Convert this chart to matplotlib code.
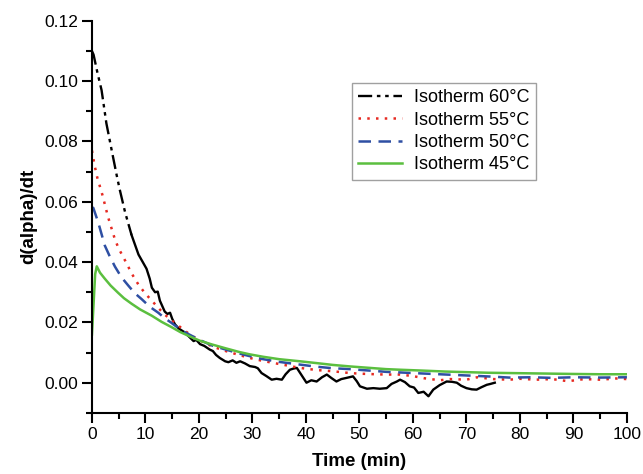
import matplotlib
matplotlib.use("Agg")
import matplotlib.pyplot as plt
from matplotlib.lines import Line2D
from matplotlib.ticker import MultipleLocator, FormatStrFormatter

plt.rcParams['font.family'] = ['Liberation Sans', 'DejaVu Sans']

# Isotherm 60°C
t60 = [0.0, 0.3, 1.0, 1.8, 2.7, 3.7, 4.6, 5.2, 6.2, 7.4, 8.7, 9.5, 10.2, 10.8, 11.2, 11.8,
       12.3, 12.7, 13.6, 14.1, 14.6, 15.0, 15.5, 16.2, 17.4, 18.3, 19.0, 19.5, 20.2, 21.0,
       22.0, 22.6, 23.2, 23.9, 24.9, 25.5, 26.3, 27.0, 27.7, 28.6, 29.5, 30.5, 31.0, 31.7,
       32.6, 33.6, 34.5, 35.5, 36.2, 37.0, 37.7, 38.3, 39.0, 40.1, 41.0, 42.0, 43.0, 43.9,
       44.8, 45.7, 46.6, 47.6, 48.8, 49.5, 50.1, 51.4, 52.6, 53.8, 55.1, 56.0, 57.0, 57.6,
       58.5, 59.4, 60.2, 61.0, 62.0, 62.9, 63.8, 65.0, 66.3, 67.3, 68.2, 69.0, 70.0, 71.0,
       71.9, 72.8, 73.8, 74.5, 75.3]
v60 = [0.110, 0.1088, 0.103, 0.097, 0.086, 0.077, 0.069, 0.064, 0.0565, 0.0490, 0.0425,
       0.0400, 0.0378, 0.0345, 0.0315, 0.0300, 0.0302, 0.0272, 0.0236, 0.0228, 0.0232, 0.0212,
       0.0194, 0.0180, 0.0166, 0.0150, 0.0138, 0.0142, 0.0128, 0.0122, 0.0110, 0.0105, 0.0092,
       0.0082, 0.0071, 0.0068, 0.0074, 0.0066, 0.0071, 0.0064, 0.0055, 0.0052, 0.0048, 0.0032,
       0.0022, 0.0010, 0.0013, 0.0010, 0.0028, 0.0043, 0.0047, 0.0049, 0.0030, 0.0000, 0.0008,
       0.0004, 0.0018, 0.0027, 0.0015, 0.0004, 0.0012, 0.0016, 0.0021, 0.0005, -0.0012,
       -0.0020, -0.0018, -0.0020, -0.0018, -0.0004, 0.0004, 0.0010, 0.0002, -0.0012, -0.0016,
       -0.0034, -0.0030, -0.0045, -0.0023, -0.0008, 0.0004, 0.0003, 0.0000, -0.0010, -0.0018,
       -0.0022, -0.0023, -0.0015, -0.0007, -0.0004, 0.0000]

# Isotherm 55°C
t55 = [0, 0.5, 1, 2, 3, 4.3, 5, 6.2, 7.5, 8.7, 10, 11.2, 12.4, 13.6, 15, 16.1, 17.4, 18.6,
       20, 22.5, 25, 27.5, 29.5, 32, 35, 38.9, 42, 45, 48.2, 50, 53, 55, 57.6, 60, 62, 65, 67,
       70, 72, 75, 78, 80, 83, 86, 89, 92, 95, 98, 100]
v55 = [0.077, 0.072, 0.068, 0.062, 0.055, 0.0475, 0.0445, 0.0405, 0.036, 0.0325, 0.0295,
       0.0272, 0.0248, 0.0226, 0.0205, 0.0190, 0.0172, 0.0156, 0.0142, 0.0120, 0.0105, 0.0092,
       0.0082, 0.0072, 0.0062, 0.0049, 0.0042, 0.0038, 0.0032, 0.0030, 0.0028, 0.0027, 0.0027,
       0.0022, 0.0015, 0.0008, 0.0012, 0.0010, 0.0018, 0.0012, 0.0010, 0.0013, 0.0010, 0.0012,
       0.0005, 0.0012, 0.0010, 0.0014, 0.0012]

# Isotherm 50°C
t50 = [0, 0.25, 1.2, 2.4, 3.3, 4.3, 5.5, 6.8, 8, 9.3, 10.8, 12.4, 13.6, 14.9, 16.1, 17.4,
       18.6, 20, 22.5, 25, 27.5, 29.5, 32, 35, 38.9, 42, 45, 48.2, 52, 55, 57.6, 60, 65, 70,
       75, 78, 82, 86, 90, 95, 100]
v50 = [0.058, 0.058, 0.053, 0.0455, 0.0420, 0.0385, 0.0350, 0.0322, 0.0297, 0.0277, 0.0252,
       0.0232, 0.0214, 0.0198, 0.0182, 0.0167, 0.0156, 0.0143, 0.0123, 0.011, 0.0097, 0.0088,
       0.0078, 0.0069, 0.006, 0.0053, 0.0048, 0.0045, 0.0040, 0.0036, 0.0034, 0.0032, 0.0028,
       0.0024, 0.0020, 0.0017, 0.0018, 0.0016, 0.0018, 0.0017, 0.0018]

# Isotherm 45°C
t45 = [0, 0.3, 0.6, 0.9, 1.5, 2.4, 3.5, 4.9, 6, 7.4, 9, 11.2, 13, 14.9, 16.5, 18.6, 20.2,
       22.4, 25, 27.5, 29.5, 32, 35, 38.9, 42, 45, 48.2, 52, 55, 57.6, 62, 66, 70, 74, 78, 82,
       86, 90, 95, 100]
v45 = [0.016, 0.026, 0.036, 0.0386, 0.0365, 0.0345, 0.0322, 0.0298, 0.0280, 0.0262, 0.0243,
       0.0222, 0.0202, 0.0184, 0.0168, 0.0151, 0.0139, 0.0127, 0.0114, 0.0102, 0.0094, 0.0086,
       0.0078, 0.0071, 0.0065, 0.0059, 0.0054, 0.0049, 0.0045, 0.0043, 0.0040, 0.0037, 0.0035,
       0.0033, 0.0032, 0.0031, 0.0030, 0.0029, 0.0028, 0.0028]

labels = ["Isotherm 60°C", "Isotherm 55°C", "Isotherm 50°C", "Isotherm 45°C"]
c60, c55, c50, c45 = "black", "#e62a22", "#2e4fa3", "#5bbf3f"
ls60 = (0, (6, 2, 1.5, 2, 1.5, 2))
ls55 = (0, (1, 2.5))
ls50 = (0, (5, 3))

fig = plt.figure(figsize=(6.43, 4.74), dpi=100)
ax = fig.add_axes([0.143, 0.129, 0.832, 0.827])

# black curve: dash-dot-dot where it is steep, looks solid once noisy
n = 10
ax.plot(t60[:n], v60[:n], color=c60, lw=1.7, ls=ls60)
ax.plot(t60[n - 1:], v60[n - 1:], color=c60, lw=1.7)
ax.plot(t55, v55, color=c55, lw=1.8, ls=ls55)
ax.plot(t50, v50, color=c50, lw=1.8, ls=ls50)
ax.plot(t45, v45, color=c45, lw=1.8)

handles = [Line2D([], [], color=c60, lw=1.7, ls=ls60),
           Line2D([], [], color=c55, lw=1.8, ls=ls55),
           Line2D([], [], color=c50, lw=1.8, ls=ls50),
           Line2D([], [], color=c45, lw=1.8)]
leg = ax.legend(handles, labels, loc="upper left", bbox_to_anchor=(0.486, 0.842),
                borderaxespad=0, fontsize=13, fancybox=False, handlelength=2.4,
                handletextpad=0.7, labelspacing=0.3, borderpad=0.35)
leg.get_frame().set_edgecolor("#888888")
leg.get_frame().set_linewidth(1.0)

ax.set_xlim(0, 100)
ax.set_ylim(-0.01, 0.12)
ax.xaxis.set_major_locator(MultipleLocator(10))
ax.xaxis.set_minor_locator(MultipleLocator(5))
ax.yaxis.set_major_locator(MultipleLocator(0.02))
ax.yaxis.set_minor_locator(MultipleLocator(0.01))
ax.yaxis.set_major_formatter(FormatStrFormatter("%.2f"))

ax.spines["top"].set_visible(False)
ax.spines["right"].set_visible(False)
for s in ("left", "bottom"):
    ax.spines[s].set_linewidth(1.5)
ax.tick_params(which="major", direction="out", length=7, width=1.5, labelsize=12.5, pad=3)
ax.tick_params(which="minor", direction="out", length=4, width=1.5)

ax.set_xlabel("Time (min)", fontsize=13.5, fontweight="bold", labelpad=8)
ax.set_ylabel("d(alpha)/dt", fontsize=13.5, fontweight="bold", labelpad=5)

fig.savefig("out.png", dpi=100)
